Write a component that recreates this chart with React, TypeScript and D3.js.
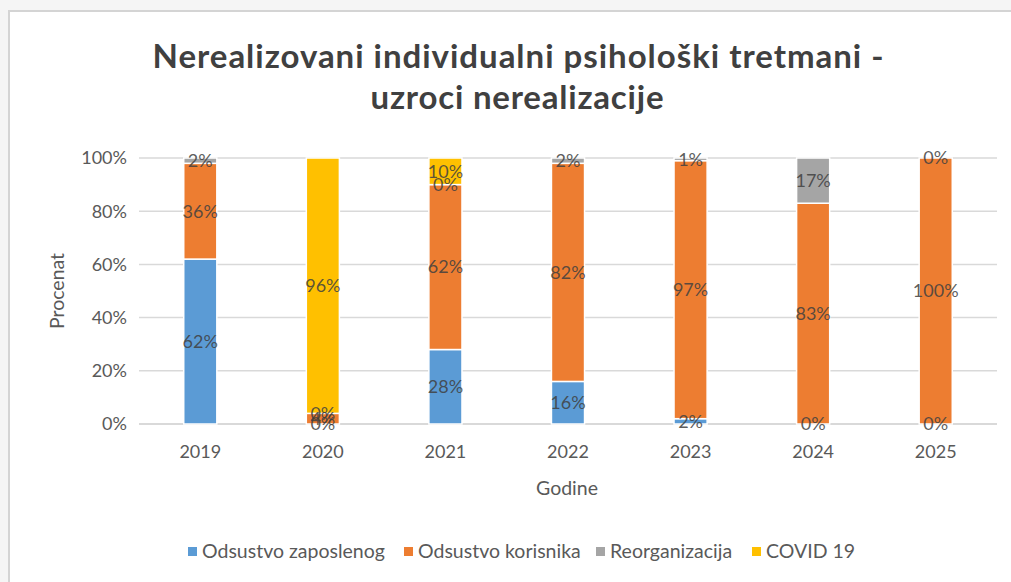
import React from 'react';
import * as d3 from 'd3';

const years = ['2019', '2020', '2021', '2022', '2023', '2024', '2025'];
const seriesNames = ['Odsustvo zaposlenog', 'Odsustvo korisnika', 'Reorganizacija', 'COVID 19'];
const zaposlenog = [62, 0, 28, 16, 2, 0, 0];
const korisnika = [36, 4, 62, 82, 97, 83, 100];
const reorganizacija = [2, 0, 0, 2, 1, 17, 0];
const covid = [null, 96, 10, null, null, null, null];
const yTicks = [0, 20, 40, 60, 80, 100];
const colors = ['#5b9bd5', '#ed7d31', '#a5a5a5', '#ffc000'];

const W = 1011;
const H = 582;
const left = 139;
const right = 997;
const top = 158;
const bottom = 424;
const font = 'Lato, "Open Sans", sans-serif';

const App = () => {
  const x = d3.scaleBand().domain(years).range([left, right]).paddingInner(0.73).paddingOuter(0.365);
  const y = d3.scaleLinear().domain([0, 100]).range([bottom, top]);

  const rows = years.map((yr, i) => ({
    year: yr,
    s0: zaposlenog[i],
    s1: korisnika[i],
    s2: reorganizacija[i],
    s3: covid[i] ?? 0,
  }));
  const keys = ['s0', 's1', 's2', 's3'];
  const raw = [zaposlenog, korisnika, reorganizacija, covid];
  const stacked = d3.stack().keys(keys)(rows as any);

  const legendX = [188, 404, 596, 752];

  return (
    <svg width={W} height={H} style={{ position: 'absolute', left: 0, top: 0 }} fontFamily={font}>
      <rect x={0} y={0} width={W} height={H} fill="#f5f5f5" />
      <rect x={9} y={11} width={W + 10} height={H + 10} fill="#fff" stroke="#d4d4d4" strokeWidth={2} />

      <text x={518} y={68} textAnchor="middle" fontSize={33} fontWeight="bold" fill="#404040"
        textLength={731} lengthAdjust="spacing">
        Nerealizovani individualni psihološki tretmani -
      </text>
      <text x={517} y={109} textAnchor="middle" fontSize={33} fontWeight="bold" fill="#404040"
        textLength={293} lengthAdjust="spacing">
        uzroci nerealizacije
      </text>

      {yTicks.map(t => (
        <g key={t}>
          <line x1={left} x2={right} y1={y(t)} y2={y(t)} stroke="#d9d9d9" strokeWidth={t === 0 ? 2 : 1.5} />
          <text x={127} y={y(t)} dy="0.35em" textAnchor="end" fontSize={18} fill="#595959">
            {t}%
          </text>
        </g>
      ))}

      <text transform={`translate(57,${(top + bottom) / 2}) rotate(-90)`} textAnchor="middle" dy="0.35em" fontSize={19.5} fill="#595959">
        Procenat
      </text>

      {stacked.map((layer, si) => (
        <g key={si}>
          {layer.map((d, i) => {
            if (raw[si][i] === null) return null;
            const h = y(d[0]) - y(d[1]);
            return (
              <rect key={i} x={x(years[i])} y={y(d[1])} width={x.bandwidth()} height={Math.max(h, 0)}
                fill={colors[si]} stroke="#fff" strokeWidth={1.5} />
            );
          })}
        </g>
      ))}

      {stacked.map((layer, si) => (
        <g key={'l' + si}>
          {layer.map((d, i) => {
            const v = raw[si][i];
            if (v === null) return null;
            return (
              <text key={i} x={(x(years[i]) as number) + x.bandwidth() / 2} y={y((d[0] + d[1]) / 2)} dy="0.35em"
                textAnchor="middle" fontSize={18} fill="#404040" fillOpacity={0.85}>
                {v}%
              </text>
            );
          })}
        </g>
      ))}

      {years.map(yr => (
        <text key={yr} x={(x(yr) as number) + x.bandwidth() / 2} y={452} dy="0.35em" textAnchor="middle" fontSize={18} fill="#595959">
          {yr}
        </text>
      ))}
      <text x={567} y={488} dy="0.35em" textAnchor="middle" fontSize={19.5} fill="#595959">
        Godine
      </text>

      {seriesNames.map((n, i) => (
        <g key={n}>
          <rect x={legendX[i]} y={547} width={9} height={9} fill={colors[i]} />
          <text x={legendX[i] + 14} y={551} dy="0.35em" fontSize={19.5} fill="#595959">
            {n}
          </text>
        </g>
      ))}
    </svg>
  );
};

export default App;
